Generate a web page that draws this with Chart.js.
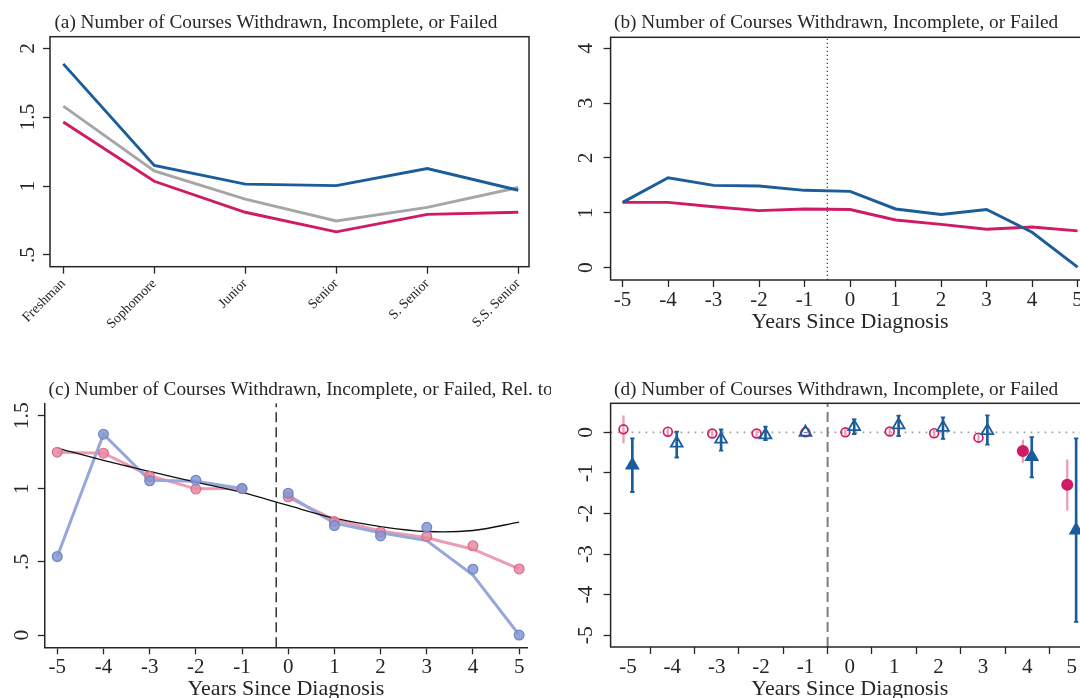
<!DOCTYPE html>
<html>
<head>
<meta charset="utf-8">
<script src="https://cdn.jsdelivr.net/npm/chart.js@4.4.1/dist/chart.umd.min.js"></script>
<style>
  html, body { margin: 0; padding: 0; background: #fff; width: 1080px; height: 698px; overflow: hidden; }
  canvas { position: absolute; }
</style>
</head>
<body>
<canvas id="pa" width="540" height="350" style="left:0;top:0"></canvas>
<canvas id="pb" width="560" height="350" style="left:540px;top:0"></canvas>
<canvas id="pc" width="551" height="348" style="left:0;top:350px"></canvas>
<canvas id="pd" width="562" height="348" style="left:551px;top:350px"></canvas>
<script>
// ---------- data ----------
const classYears = ['Freshman', 'Sophomore', 'Junior', 'Senior', 'S. Senior', 'S.S. Senior'];
const aBlue = [1.887, 1.15, 1.014, 1.003, 1.127, 0.97];
const aGray = [1.58, 1.11, 0.905, 0.747, 0.845, 0.99];
const aPink = [1.465, 1.035, 0.81, 0.668, 0.795, 0.81];
const aYTicks = [0.5, 1, 1.5, 2];
const aYLabels = ['.5', '1', '1.5', '2'];

const years = [-5, -4, -3, -2, -1, 0, 1, 2, 3, 4, 5];

const bBlue = [1.19, 1.64, 1.50, 1.49, 1.41, 1.39, 1.07, 0.97, 1.06, 0.645, 0.01];
const bPink = [1.19, 1.19, 1.11, 1.04, 1.07, 1.06, 0.87, 0.79, 0.70, 0.74, 0.67];
const bYTicks = [0, 1, 2, 3, 4];
const bYLabels = ['0', '1', '2', '3', '4'];

const cBlueDots = [0.537, 1.374, 1.055, 1.059, 1.002, 0.970, 0.749, 0.678, 0.737, 0.450, 0.0];
const cBlueLine = [0.537, 1.374, 1.058, 1.052, 1.002, 0.955, 0.765, 0.700, 0.646, 0.410, 0.0];
const cPinkDots = [1.251, 1.244, 1.084, 0.998, 1.002, 0.945, 0.776, 0.703, 0.674, 0.610, 0.452];
const cPinkLine = [1.251, 1.244, 1.090, 1.000, 1.002, 0.942, 0.788, 0.712, 0.665, 0.587, 0.452];
const cTrend = [1.279, 1.194, 1.119, 1.046, 0.975, 0.886, 0.799, 0.742, 0.708, 0.715, 0.772];
const cYTicks = [0, 0.5, 1, 1.5];
const cYLabels = ['0', '.5', '1', '1.5'];

const dPinkEst = [0.074, 0.017, -0.03, -0.03, 0.0, 0.0, 0.02, -0.02, -0.13, -0.46, -1.29];
const dPinkLo = [-0.26, -0.06, -0.10, -0.10, 0.0, -0.07, -0.06, -0.09, -0.23, -0.74, -1.92];
const dPinkHi = [0.41, 0.09, 0.04, 0.04, 0.0, 0.07, 0.09, 0.05, -0.04, -0.19, -0.68];
const dPinkSig = [false, false, false, false, false, false, false, false, false, true, true];
const dBlueEst = [-0.81, -0.27, -0.17, -0.066, 0.0, 0.14, 0.18, 0.12, 0.04, -0.60, -2.41];
const dBlueLo = [-1.47, -0.62, -0.45, -0.19, 0.0, -0.04, -0.09, -0.16, -0.30, -1.11, -4.67];
const dBlueHi = [-0.15, 0.02, 0.07, 0.14, 0.0, 0.32, 0.41, 0.37, 0.42, -0.12, -0.15];
const dBlueSig = [true, false, false, false, false, false, false, false, false, true, true];
const dYTicks = [-5, -4, -3, -2, -1, 0];
const dYLabels = ['-5', '-4', '-3', '-2', '-1', '0'];

const refYear = -1;       // omitted base year, both groups drawn on the same spot
const dodge = 0.1;        // horizontal offset between the two groups

// ---------- style ----------
const SERIF = '"Liberation Serif", "DejaVu Serif", serif';
const INK = '#262626';
const BLUE = '#1b5c9b';
const PINK = '#cf1b63';
const GRAY = '#a6a6a6';
const LBLUE_LINE = '#96a7dc';
const LBLUE_DOT = 'rgba(133,152,210,0.85)';
const LBLUE_EDGE = '#6f85c4';
const LPINK_LINE = '#eb9db1';
const LPINK_DOT = 'rgba(231,137,163,0.85)';
const LPINK_EDGE = '#dc6b8b';

Chart.defaults.font.family = SERIF;
Chart.defaults.color = INK;
Chart.defaults.animation = false;

const tickGrid = { display: true, drawOnChartArea: false, drawTicks: true, tickLength: 7, tickColor: INK, tickWidth: 1.3 };

function yAxis(min, max, ticks, width, border) {
  return {
    type: 'linear', min, max,
    afterBuildTicks: s => { s.ticks = ticks.map(v => ({ value: v })); },
    afterFit: s => { s.width = width; },
    ticks: { display: false },
    grid: tickGrid,
    border: { display: border, color: INK, width: 1.5 }
  };
}

function xAxis(min, max, ticks, height, labelFn, border, rot, size) {
  return {
    type: 'linear', min, max, offset: false,
    afterBuildTicks: s => { s.ticks = ticks.map(v => ({ value: v })); },
    afterFit: s => { s.height = height; },
    ticks: {
      autoSkip: false, minRotation: rot, maxRotation: rot, padding: rot ? 2 : 1,
      color: INK, font: { family: SERIF, size: size },
      callback: v => labelFn(v)
    },
    grid: tickGrid,
    border: { display: border, color: INK, width: 1.5 }
  };
}

// frame, panel heading, rotated y labels and x-axis title
function deco(cfg) {
  return {
    id: 'deco',
    afterDraw(chart) {
      const ctx = chart.ctx, a = chart.chartArea;
      ctx.save();
      if (cfg.frame) {
        ctx.strokeStyle = INK; ctx.lineWidth = 1.5;
        ctx.strokeRect(a.left, a.top, a.right - a.left, a.bottom - a.top);
      }
      ctx.fillStyle = INK;
      ctx.textBaseline = 'alphabetic';
      ctx.font = '19.3px ' + SERIF;
      ctx.textAlign = 'left';
      ctx.fillText(cfg.title, cfg.titleX, cfg.titleY);

      const ys = chart.scales.y;
      ctx.font = '21.5px ' + SERIF;
      ctx.textAlign = 'center';
      cfg.yTicks.forEach((v, i) => {
        const py = ys.getPixelForValue(v);
        ctx.save();
        ctx.translate(a.left - cfg.yGap, py);
        ctx.rotate(-Math.PI / 2);
        ctx.fillText(cfg.yLabels[i], 0, 0);
        ctx.restore();
      });

      if (cfg.xTitle) {
        ctx.font = '22px ' + SERIF;
        ctx.textAlign = 'center';
        ctx.fillText(cfg.xTitle, (a.left + a.right) / 2, a.bottom + cfg.xTitleGap);
      }
      ctx.restore();
    }
  };
}

const baseOpts = (pad) => ({
  responsive: false,
  devicePixelRatio: 1,
  events: [],
  layout: { padding: pad },
  plugins: { legend: { display: false }, tooltip: { enabled: false } }
});

const pts = (xs, ys) => xs.map((x, i) => ({ x, y: ys[i] }));
const lineDs = (data, color, width, order, extra) => Object.assign({
  type: 'line', data, borderColor: color, borderWidth: width, pointRadius: 0,
  fill: false, tension: 0, order
}, extra || {});

// ---------- (a) by class year ----------
{
  const idx = classYears.map((_, i) => i);
  const opts = baseOpts({ left: 0, top: 36.7, right: 11, bottom: 0 });
  opts.scales = {
    x: xAxis(-0.146, 5.118, idx, 83.3, v => classYears[v], false, 45, 13.8),
    y: yAxis(0.415, 2.084, aYTicks, 50, false)
  };
  new Chart(document.getElementById('pa'), {
    type: 'line',
    data: { datasets: [
      lineDs(pts(idx, aBlue), BLUE, 2.9, 1),
      lineDs(pts(idx, aGray), GRAY, 2.9, 2),
      lineDs(pts(idx, aPink), PINK, 2.9, 3)
    ] },
    options: opts,
    plugins: [deco({ frame: true, title: '(a) Number of Courses Withdrawn, Incomplete, or Failed',
      titleX: 54.4, titleY: 27.5, yTicks: aYTicks, yLabels: aYLabels, yGap: 16 })]
  });
}

// ---------- (b) by years since diagnosis ----------
{
  const opts = baseOpts({ left: 0, top: 37.3, right: 10.4, bottom: 0 });
  const yMin = -0.225, yMax = 4.2;
  opts.scales = {
    x: xAxis(-5.264, 5.264, years, 70, v => String(v), false, 0, 21),
    y: yAxis(yMin, yMax, bYTicks, 70.6, false)
  };
  new Chart(document.getElementById('pb'), {
    type: 'line',
    data: { datasets: [
      lineDs(pts(years, bBlue), BLUE, 2.9, 1),
      lineDs(pts(years, bPink), PINK, 2.9, 2),
      lineDs([{ x: -0.5, y: yMin }, { x: -0.5, y: yMax }], '#444', 1.3, 5, { borderDash: [1.3, 2.7] })
    ] },
    options: opts,
    plugins: [deco({ frame: true, title: '(b) Number of Courses Withdrawn, Incomplete, or Failed',
      titleX: 74, titleY: 27.5, yTicks: bYTicks, yLabels: bYLabels, yGap: 19,
      xTitle: 'Years Since Diagnosis', xTitleGap: 47.7 })]
  });
}

// ---------- (c) relative to the year before diagnosis ----------
{
  const opts = baseOpts({ left: 0, top: 53.3, right: 24, bottom: 0 });
  const yMin = -0.084, yMax = 1.585;
  opts.scales = {
    x: xAxis(-5.27, 5.17, years, 50.7, v => String(v), true, 0, 21),
    y: yAxis(yMin, yMax, cYTicks, 44.8, true)
  };
  const pre = years.filter(t => t < 0).length;
  const split = (arr) => [pts(years.slice(0, pre), arr.slice(0, pre)), pts(years.slice(pre), arr.slice(pre))];
  const [bl1, bl2] = split(cBlueLine);
  const [pl1, pl2] = split(cPinkLine);
  const dotDs = (ys, fill, edge, order) => ({
    type: 'scatter', data: pts(years, ys), pointStyle: 'circle', pointRadius: 4.9,
    pointBackgroundColor: fill, pointBorderColor: edge, pointBorderWidth: 1.2, showLine: false, order
  });
  new Chart(document.getElementById('pc'), {
    type: 'scatter',
    data: { datasets: [
      dotDs(cBlueDots, LBLUE_DOT, LBLUE_EDGE, 1),
      dotDs(cPinkDots, LPINK_DOT, LPINK_EDGE, 2),
      lineDs(pts(years, cTrend), '#111', 1.3, 3, { tension: 0.3 }),
      lineDs(bl1, LBLUE_LINE, 3, 4), lineDs(bl2, LBLUE_LINE, 3, 4),
      lineDs(pl1, LPINK_LINE, 3, 5), lineDs(pl2, LPINK_LINE, 3, 5),
      lineDs([{ x: -0.26, y: yMin }, { x: -0.26, y: yMax }], '#222', 1.4, 6, { borderDash: [10, 5] })
    ] },
    options: opts,
    plugins: [deco({ frame: false, title: '(c) Number of Courses Withdrawn, Incomplete, or Failed, Rel. to',
      titleX: 48.5, titleY: 44.5, yTicks: cYTicks, yLabels: cYLabels, yGap: 17.3,
      xTitle: 'Years Since Diagnosis', xTitleGap: 47.7 })]
  });
}

// ---------- (d) event-study estimates with confidence intervals ----------
{
  const opts = baseOpts({ left: 0, top: 53.3, right: 24, bottom: 0 });
  const xMin = -5.39, xMax = 5.39, yMin = -5.29, yMax = 0.716;
  opts.scales = {
    x: xAxis(xMin, xMax, years, 51, v => String(v), false, 0, 21),
    y: yAxis(yMin, yMax, dYTicks, 59.6, false)
  };
  const pinkX = years.map(t => t === refYear ? t : t - dodge);
  const blueX = years.map(t => t === refYear ? t : t + dodge);
  const ciDs = (xs, lo, hi, color, thick, order) => ({
    type: 'bar', data: xs.map((x, i) => ({ x, y: [lo[i], hi[i]] })),
    backgroundColor: color, borderWidth: 0, barThickness: thick, grouped: false, order
  });
  const caps = blueX.flatMap((x, i) => dBlueLo[i] === dBlueHi[i] ? [] : [{ x, y: dBlueLo[i] }, { x, y: dBlueHi[i] }]);
  new Chart(document.getElementById('pd'), {
    type: 'scatter',
    data: { datasets: [
      { type: 'scatter', data: pts(blueX, dBlueEst), pointStyle: 'triangle', pointRadius: 6.8,
        pointBackgroundColor: ctx => dBlueSig[ctx.dataIndex] ? BLUE : 'rgba(0,0,0,0)',
        pointBorderColor: BLUE, pointBorderWidth: 1.8, order: 1 },
      { type: 'scatter', data: pts(pinkX, dPinkEst), pointStyle: 'circle',
        pointRadius: ctx => dPinkSig[ctx.dataIndex] ? 5.2 : 4.4,
        pointBackgroundColor: ctx => dPinkSig[ctx.dataIndex] ? PINK : 'rgba(0,0,0,0)',
        pointBorderColor: PINK, pointBorderWidth: 1.7, order: 2 },
      { type: 'scatter', data: caps, pointStyle: 'line', pointRadius: 2.2,
        pointBorderColor: BLUE, pointBorderWidth: 1.8, order: 3 },
      ciDs(blueX, dBlueLo, dBlueHi, BLUE, 2, 4),
      ciDs(pinkX, dPinkLo, dPinkHi, '#eba0b5', 1.7, 5),
      lineDs([{ x: -0.5, y: yMin }, { x: -0.5, y: yMax }], '#7d7d7d', 2, 6, { borderDash: [10, 5] }),
      lineDs([{ x: xMin, y: 0 }, { x: xMax, y: 0 }], '#a0a0a0', 1.7, 7, { borderDash: [1.7, 5.3] })
    ] },
    options: opts,
    plugins: [deco({ frame: true, title: '(d) Number of Courses Withdrawn, Incomplete, or Failed',
      titleX: 63, titleY: 44.5, yTicks: dYTicks, yLabels: dYLabels, yGap: 19,
      xTitle: 'Years Since Diagnosis', xTitleGap: 47.7 })]
  });
}
</script>
</body>
</html>
